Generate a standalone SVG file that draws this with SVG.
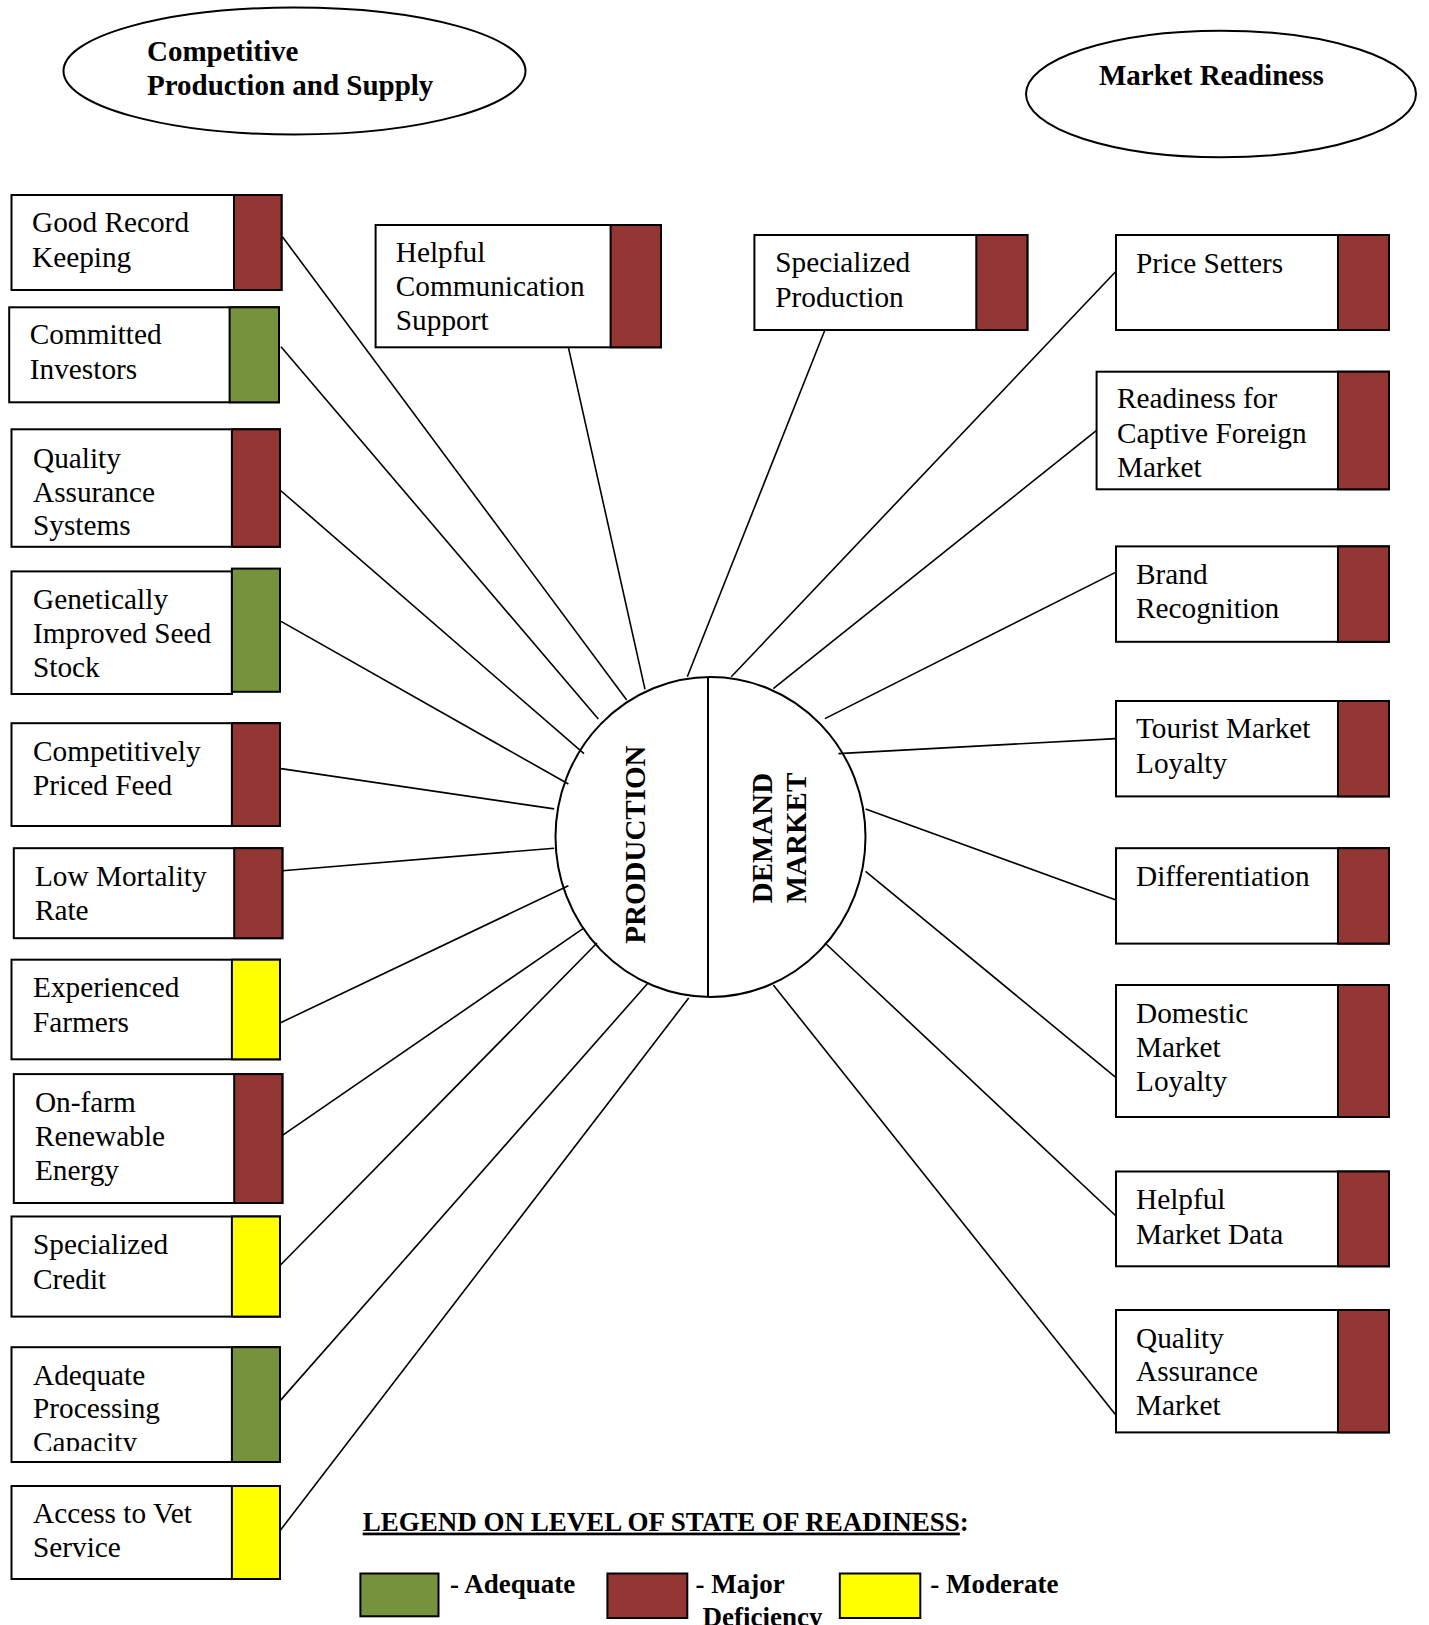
<svg xmlns="http://www.w3.org/2000/svg" width="1429" height="1625" viewBox="0 0 1429 1625">
<style>
.bg{fill:#ffffff}
.box{fill:#ffffff;stroke:#000;stroke-width:2}
.red{fill:#943634;stroke:#000;stroke-width:2}
.green{fill:#76923C;stroke:#000;stroke-width:2}
.yellow{fill:#FFFF00;stroke:#000;stroke-width:2}
.oval{fill:#ffffff;stroke:#000;stroke-width:2}
.t{font-family:"Liberation Serif","Times New Roman",serif;font-size:29.3px;fill:#000}
.b{font-family:"Liberation Serif","Times New Roman",serif;font-size:29px;font-weight:bold;fill:#000}
.lg{font-family:"Liberation Serif","Times New Roman",serif;font-size:27px;font-weight:bold;fill:#000}
.conn line{stroke:#000;stroke-width:1.6}
</style>
<defs>
<clipPath id="capclip"><rect x="11" y="1347" width="222" height="104"/></clipPath>
</defs>
<rect class="bg" x="0" y="0" width="1429" height="1625"/>

<g id="title-production">
<ellipse class="oval" cx="294.5" cy="71" rx="231" ry="63.5"/>
<text class="b" x="147" y="61">Competitive</text>
<text class="b" x="147" y="95">Production and Supply</text>
</g>
<g id="title-market">
<ellipse class="oval" cx="1221" cy="94" rx="195" ry="63.3"/>
<text class="b" x="1099" y="85">Market Readiness</text>
</g>

<g id="hub">
<ellipse class="oval" cx="710.5" cy="837" rx="155" ry="160"/>
<line x1="708" y1="677" x2="708" y2="997" stroke="#000" stroke-width="2"/>
<text class="b" transform="translate(645,844.6) rotate(-90)" text-anchor="middle">PRODUCTION</text>
<text class="b" transform="translate(772,838) rotate(-90)" text-anchor="middle">DEMAND</text>
<text class="b" transform="translate(806,838) rotate(-90)" text-anchor="middle">MARKET</text>
</g>

<g class="conn" id="connectors">
<line x1="282.4" y1="236.7" x2="626.7" y2="700"/>
<line x1="281" y1="346.7" x2="598.3" y2="719"/>
<line x1="568.4" y1="347.3" x2="645" y2="689.3"/>
<line x1="280" y1="490" x2="584" y2="753.6"/>
<line x1="281" y1="621.4" x2="568.4" y2="784"/>
<line x1="281" y1="768.6" x2="554.2" y2="808.9"/>
<line x1="282.4" y1="870.7" x2="554.2" y2="848.2"/>
<line x1="280" y1="1023" x2="568.4" y2="885.7"/>
<line x1="282.4" y1="1135.3" x2="583" y2="928.6"/>
<line x1="280" y1="1265.5" x2="597" y2="943"/>
<line x1="280" y1="1400.9" x2="647.4" y2="983.7"/>
<line x1="280" y1="1530.7" x2="688.7" y2="998.1"/>
<line x1="824.9" y1="330" x2="687.3" y2="676.8"/>
<line x1="1116.5" y1="270.7" x2="731.3" y2="676.8"/>
<line x1="1096.6" y1="430.4" x2="773.3" y2="688.6"/>
<line x1="1116" y1="572.1" x2="824.9" y2="718.6"/>
<line x1="1116" y1="738.6" x2="838.4" y2="753.6"/>
<line x1="1116" y1="900" x2="865.6" y2="809"/>
<line x1="1116" y1="1077.6" x2="865.6" y2="871.4"/>
<line x1="1116" y1="1216" x2="825" y2="943"/>
<line x1="1116" y1="1415.3" x2="773.3" y2="985"/>
</g>

<g id="good-record-keeping">
<rect class="box" x="11.5" y="195" width="270" height="95"/>
<rect class="red" x="234" y="195" width="47.5" height="95"/>
<text class="t" x="32" y="231.5">Good Record</text>
<text class="t" x="32" y="266.5">Keeping</text>
</g>
<g id="committed-investors">
<rect class="box" x="9.2" y="307.3" width="269.8" height="95"/>
<rect class="green" x="229.6" y="307.3" width="49.4" height="95"/>
<text class="t" x="29.8" y="344">Committed</text>
<text class="t" x="29.8" y="379">Investors</text>
</g>
<g id="quality-assurance-systems">
<rect class="box" x="11.5" y="429.3" width="268.5" height="117.5"/>
<rect class="red" x="231.9" y="429.3" width="48.1" height="117.5"/>
<text class="t" x="33" y="467.5">Quality</text>
<text class="t" x="33" y="501.5">Assurance</text>
<text class="t" x="33" y="535">Systems</text>
</g>
<g id="genetically-improved-seed-stock">
<rect class="box" x="11.5" y="571.4" width="220.4" height="122.6"/>
<rect class="green" x="231.9" y="568.6" width="48.1" height="123.2"/>
<text class="t" x="33" y="609">Genetically</text>
<text class="t" x="33" y="643">Improved Seed</text>
<text class="t" x="33" y="677">Stock</text>
</g>
<g id="competitively-priced-feed">
<rect class="box" x="11.5" y="723.2" width="268.5" height="102.8"/>
<rect class="red" x="231.9" y="723.2" width="48.1" height="102.8"/>
<text class="t" x="33" y="760.7">Competitively</text>
<text class="t" x="33" y="794.6">Priced Feed</text>
</g>
<g id="low-mortality-rate">
<rect class="box" x="13.8" y="848.2" width="268.6" height="90"/>
<rect class="red" x="234.2" y="848.2" width="48.2" height="90"/>
<text class="t" x="34.9" y="885.7">Low Mortality</text>
<text class="t" x="34.9" y="919.6">Rate</text>
</g>
<g id="experienced-farmers">
<rect class="box" x="11.5" y="959.7" width="268.5" height="99.6"/>
<rect class="yellow" x="231.9" y="959.7" width="48.1" height="99.6"/>
<text class="t" x="33" y="996.8">Experienced</text>
<text class="t" x="33" y="1031.7">Farmers</text>
</g>
<g id="on-farm-renewable-energy">
<rect class="box" x="13.8" y="1074.1" width="268.6" height="128.9"/>
<rect class="red" x="234.2" y="1074.1" width="48.2" height="128.9"/>
<text class="t" x="34.9" y="1111.7">On-farm</text>
<text class="t" x="34.9" y="1146.2">Renewable</text>
<text class="t" x="34.9" y="1180.3">Energy</text>
</g>
<g id="specialized-credit">
<rect class="box" x="11.5" y="1216.5" width="268.5" height="100.1"/>
<rect class="yellow" x="231.9" y="1216.5" width="48.1" height="100.1"/>
<text class="t" x="33" y="1253.7">Specialized</text>
<text class="t" x="33" y="1288.6">Credit</text>
</g>
<g id="adequate-processing-capacity">
<rect class="box" x="11.5" y="1347.2" width="268.5" height="114.8"/>
<rect class="green" x="231.9" y="1347.2" width="48.1" height="114.8"/>
<text class="t" x="33" y="1384.7">Adequate</text>
<text class="t" x="33" y="1418.4">Processing</text>
<text class="t" x="33" y="1452" clip-path="url(#capclip)">Capacity</text>
</g>
<g id="access-to-vet-service">
<rect class="box" x="11.5" y="1486" width="268.5" height="93"/>
<rect class="yellow" x="231.9" y="1486" width="48.1" height="93"/>
<text class="t" x="33" y="1523.2">Access to Vet</text>
<text class="t" x="33" y="1557.3">Service</text>
</g>

<g id="helpful-communication-support">
<rect class="box" x="375.6" y="225" width="285.4" height="122.3"/>
<rect class="red" x="610.6" y="225" width="50.4" height="122.3"/>
<text class="t" x="395.8" y="261.7">Helpful</text>
<text class="t" x="395.8" y="295.7">Communication</text>
<text class="t" x="395.8" y="329.7">Support</text>
</g>
<g id="specialized-production">
<rect class="box" x="754.4" y="235" width="273" height="95"/>
<rect class="red" x="976.3" y="235" width="51.1" height="95"/>
<text class="t" x="775.2" y="271.7">Specialized</text>
<text class="t" x="775.2" y="306.7">Production</text>
</g>
<g id="price-setters">
<rect class="box" x="1116" y="235" width="273" height="95"/>
<rect class="red" x="1338" y="235" width="51" height="95"/>
<text class="t" x="1136" y="272.7">Price Setters</text>
</g>
<g id="readiness-captive-foreign-market">
<rect class="box" x="1096.6" y="371.7" width="292.4" height="117.6"/>
<rect class="red" x="1338" y="371.7" width="51" height="117.6"/>
<text class="t" x="1117" y="408.3">Readiness for</text>
<text class="t" x="1117" y="442.9">Captive Foreign</text>
<text class="t" x="1117" y="476.8">Market</text>
</g>
<g id="brand-recognition">
<rect class="box" x="1116" y="546.4" width="273" height="95.4"/>
<rect class="red" x="1338" y="546.4" width="51" height="95.4"/>
<text class="t" x="1136" y="584">Brand</text>
<text class="t" x="1136" y="617.9">Recognition</text>
</g>
<g id="tourist-market-loyalty">
<rect class="box" x="1116" y="701" width="273" height="95.4"/>
<rect class="red" x="1338" y="701" width="51" height="95.4"/>
<text class="t" x="1136" y="737.5">Tourist Market</text>
<text class="t" x="1136" y="773.2">Loyalty</text>
</g>
<g id="differentiation">
<rect class="box" x="1116" y="848.2" width="273" height="95.4"/>
<rect class="red" x="1338" y="848.2" width="51" height="95.4"/>
<text class="t" x="1136" y="886.4">Differentiation</text>
</g>
<g id="domestic-market-loyalty">
<rect class="box" x="1116" y="985" width="273" height="132"/>
<rect class="red" x="1338" y="985" width="51" height="132"/>
<text class="t" x="1136" y="1023">Domestic</text>
<text class="t" x="1136" y="1057">Market</text>
<text class="t" x="1136" y="1090.7">Loyalty</text>
</g>
<g id="helpful-market-data">
<rect class="box" x="1116" y="1171.5" width="273" height="94.8"/>
<rect class="red" x="1338" y="1171.5" width="51" height="94.8"/>
<text class="t" x="1136" y="1208.7">Helpful</text>
<text class="t" x="1136" y="1243.6">Market Data</text>
</g>
<g id="quality-assurance-market">
<rect class="box" x="1116" y="1310" width="273" height="122.4"/>
<rect class="red" x="1338" y="1310" width="51" height="122.4"/>
<text class="t" x="1136" y="1347.6">Quality</text>
<text class="t" x="1136" y="1381">Assurance</text>
<text class="t" x="1136" y="1415">Market</text>
</g>

<g id="legend">
<text class="lg" x="362.7" y="1530.6"><tspan text-decoration="underline">LEGEND ON LEVEL OF STATE OF READINESS</tspan>:</text>
<rect class="green" x="360.4" y="1573.5" width="78.1" height="42.8"/>
<text class="lg" x="450" y="1593">- Adequate</text>
<rect class="red" x="607.4" y="1573.5" width="79.9" height="44.5"/>
<text class="lg" x="695.6" y="1593">- Major</text>
<text class="lg" x="702.6" y="1626">Deficiency</text>
<rect class="yellow" x="839.8" y="1573.5" width="80.5" height="44.5"/>
<text class="lg" x="930.2" y="1593">- Moderate</text>
</g>
</svg>
